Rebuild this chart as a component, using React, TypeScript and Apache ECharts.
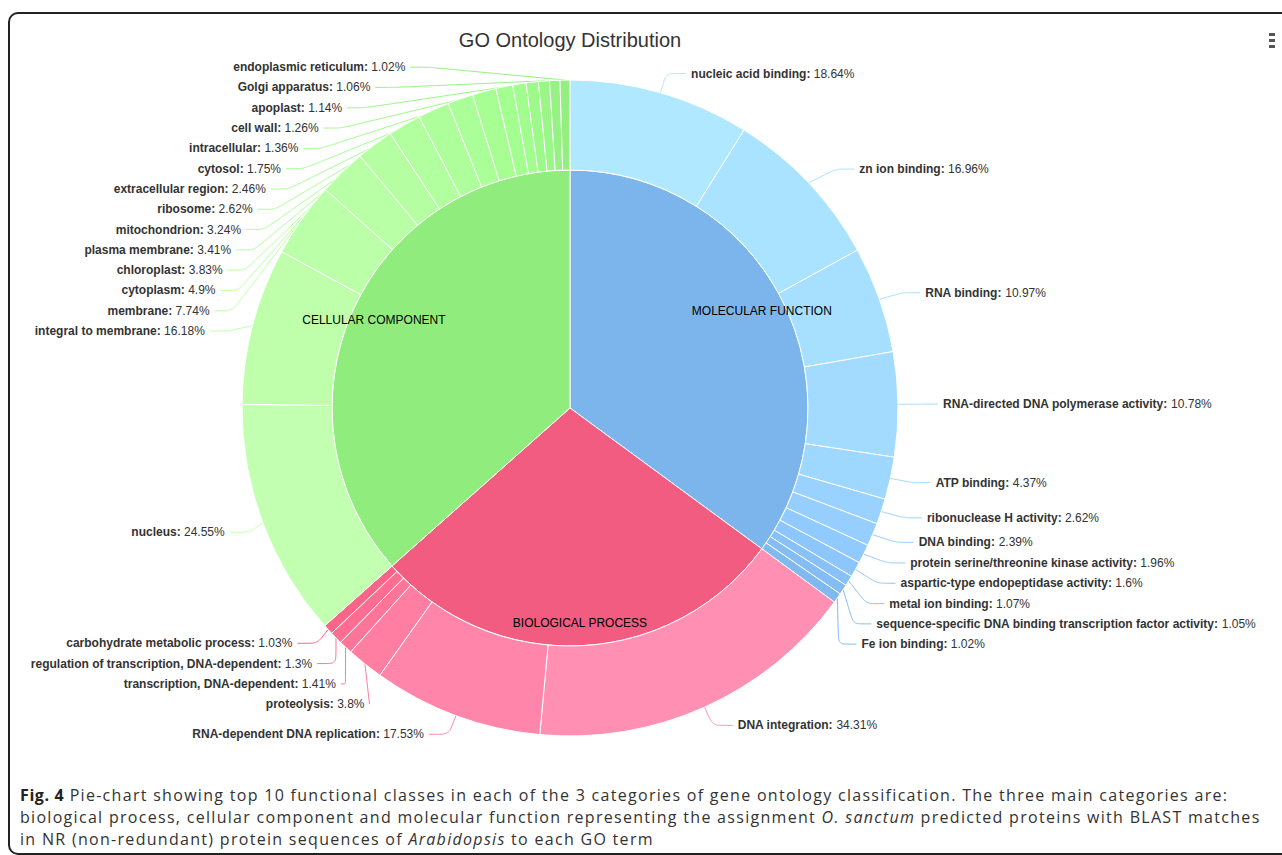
import React, { useEffect, useRef } from "react";
import * as echarts from "echarts";

const chartTitle = "GO Ontology Distribution";

const categories = ["MOLECULAR FUNCTION", "BIOLOGICAL PROCESS", "CELLULAR COMPONENT"];
const categoryColors = ["#7cb5ec", "#f15c80", "#90ed7d"];

const mfNames = [
  "nucleic acid binding",
  "zn ion binding",
  "RNA binding",
  "RNA-directed DNA polymerase activity",
  "ATP binding",
  "ribonuclease H activity",
  "DNA binding",
  "protein serine/threonine kinase activity",
  "aspartic-type endopeptidase activity",
  "metal ion binding",
  "sequence-specific DNA binding transcription factor activity",
  "Fe ion binding",
];
const mfValues = [18.64, 16.96, 10.97, 10.78, 4.37, 2.62, 2.39, 1.96, 1.6, 1.07, 1.05, 1.02];

const bpNames = [
  "DNA integration",
  "RNA-dependent DNA replication",
  "proteolysis",
  "transcription, DNA-dependent",
  "regulation of transcription, DNA-dependent",
  "carbohydrate metabolic process",
];
const bpValues = [34.31, 17.53, 3.8, 1.41, 1.3, 1.03];

const ccNames = [
  "nucleus",
  "integral to membrane",
  "membrane",
  "cytoplasm",
  "chloroplast",
  "plasma membrane",
  "mitochondrion",
  "ribosome",
  "extracellular region",
  "cytosol",
  "intracellular",
  "cell wall",
  "apoplast",
  "Golgi apparatus",
  "endoplasmic reticulum",
];
const ccValues = [24.55, 16.18, 7.74, 4.9, 3.83, 3.41, 3.24, 2.62, 2.46, 1.75, 1.36, 1.26, 1.14, 1.06, 1.02];

const FONT = '"Liberation Sans", Arial, Helvetica, sans-serif';

function brighten(hex: string, b: number): string {
  const n = parseInt(hex.slice(1), 16);
  const add = Math.trunc(b * 255);
  const rgb = [(n >> 16) & 255, (n >> 8) & 255, n & 255].map((v) =>
    Math.max(0, Math.min(255, v + add))
  );
  return `rgb(${rgb.join(",")})`;
}

export default function App() {
  const ref = useRef<HTMLDivElement>(null);

  useEffect(() => {
    if (!ref.current) return;
    const chart = echarts.init(ref.current, undefined, { renderer: "svg" });

    const groups = [
      { names: mfNames, values: mfValues },
      { names: bpNames, values: bpValues },
      { names: ccNames, values: ccValues },
    ];

    const innerData = groups.map((g, i) => ({
      name: categories[i],
      value: Math.round(g.values.reduce((a, b) => a + b, 0) * 100) / 100,
      itemStyle: { color: categoryColors[i] },
    }));

    const outerData: any[] = [];
    groups.forEach((g, i) => {
      const len = g.values.length;
      g.values.forEach((v, j) => {
        outerData.push({
          name: g.names[j],
          value: v,
          itemStyle: { color: brighten(categoryColors[i], 0.2 - j / len / 5) },
        });
      });
    });

    const cx = 570;
    const cy = 408;
    const viewTop = 57;
    const center = [cx, cy - viewTop];
    const labelCircle = 383;

    chart.setOption({
      animation: false,
      title: {
        text: chartTitle,
        left: cx,
        top: 30,
        textAlign: "center",
        padding: 0,
        textStyle: { fontFamily: FONT, fontSize: 20, fontWeight: "normal", color: "#333" },
      },
      graphic: [
        { type: "rect", shape: { x: 1269, y: 33, width: 6, height: 3 }, style: { fill: "#555" } },
        { type: "rect", shape: { x: 1269, y: 39, width: 6, height: 3 }, style: { fill: "#555" } },
        { type: "rect", shape: { x: 1269, y: 45, width: 6, height: 3 }, style: { fill: "#555" } },
      ],
      series: [
        {
          type: "pie",
          name: "Categories",
          top: viewTop,
          center,
          radius: [0, 238],
          startAngle: 90,
          clockwise: true,
          data: innerData,
          label: { show: false },
          labelLine: { show: false },
          itemStyle: { borderColor: "#fff", borderWidth: 1 },
          silent: true,
        },
        {
          type: "pie",
          name: "CategoryLabels",
          top: viewTop,
          center,
          radius: [190, 234],
          startAngle: 90,
          clockwise: true,
          data: innerData.map((d) => ({ name: d.name, value: d.value })),
          itemStyle: { color: "rgba(0,0,0,0)", borderWidth: 0 },
          label: {
            show: true,
            position: "inside",
            formatter: "{b}",
            fontFamily: FONT,
            fontSize: 12,
            color: "#000",
          },
          labelLine: { show: false },
          silent: true,
          z: 5,
        },
        {
          type: "pie",
          name: "Terms",
          top: viewTop,
          center,
          radius: [238, 328],
          startAngle: 90,
          clockwise: true,
          data: outerData,
          itemStyle: { borderColor: "#fff", borderWidth: 1 },
          avoidLabelOverlap: true,
          label: {
            show: true,
            position: "outside",
            formatter: (p: any) => `{n|${p.name}:} {v|${p.value}%}`,
            lineHeight: 18.3,
            rich: {
              n: { fontFamily: FONT, fontSize: 12, fontWeight: "bold", color: "#333", lineHeight: 18.3 },
              v: { fontFamily: FONT, fontSize: 12, fontWeight: "normal", color: "#333", lineHeight: 18.3 },
            },
          },
          labelLine: { show: true, length: 20, length2: 20, smooth: 0.2, lineStyle: { width: 1 } },
          labelLayout: (params: any) => {
            const pts = params.labelLinePoints;
            const rect = params.labelRect;
            if (!pts || !rect) return {};
            const yMid = rect.y + rect.height / 2;
            const dy = yMid - cy;
            const isLeft = pts[2][0] < cx;
            const useCircle = isLeft ? dy < 0 : Math.abs(dy) < 300;
            if (!useCircle) return {};
            const dir = isLeft ? -1 : 1;
            const textX = cx + dir * (Math.sqrt(Math.max(0, labelCircle * labelCircle - dy * dy)) - 10);
            const lineEnd = textX - dir * 5;
            return {
              x: textX,
              y: yMid,
              align: isLeft ? "right" : "left",
              verticalAlign: "middle",
              labelLinePoints: [pts[0], [lineEnd - dir * 18, yMid], [lineEnd, yMid]],
            };
          },
          silent: true,
        },
      ],
    });

    return () => {
      chart.dispose();
    };
  }, []);

  return (
    <div
      style={{
        position: "fixed",
        left: 0,
        top: 0,
        width: 1282,
        height: 855,
        overflow: "hidden",
        background: "#fff",
      }}
    >
      <div
        style={{
          position: "absolute",
          left: 8,
          top: 12,
          width: 1320,
          height: 843,
          boxSizing: "border-box",
          border: "2px solid #222",
          borderRadius: 10,
        }}
      />
      <div ref={ref} style={{ position: "absolute", left: 0, top: 0, width: 1282, height: 778 }} />
      <div
        style={{
          position: "absolute",
          left: 20,
          top: 784,
          width: 1262,
          fontFamily: '"Open Sans", sans-serif',
          fontSize: 16,
          letterSpacing: "1.3px",
          lineHeight: "22px",
          color: "#333",
          whiteSpace: "nowrap",
        }}
      >
        <b style={{ color: "#222", letterSpacing: "0.6px" }}>Fig. 4</b> Pie-chart showing top 10 functional
        classes in each of the 3 categories of gene ontology classification. The three main categories are:
        <br />
        biological process, cellular component and molecular function representing the assignment{" "}
        <i>O. sanctum</i> predicted proteins with BLAST matches
        <br />
        in NR (non-redundant) protein sequences of <i>Arabidopsis</i> to each GO term
      </div>
    </div>
  );
}
